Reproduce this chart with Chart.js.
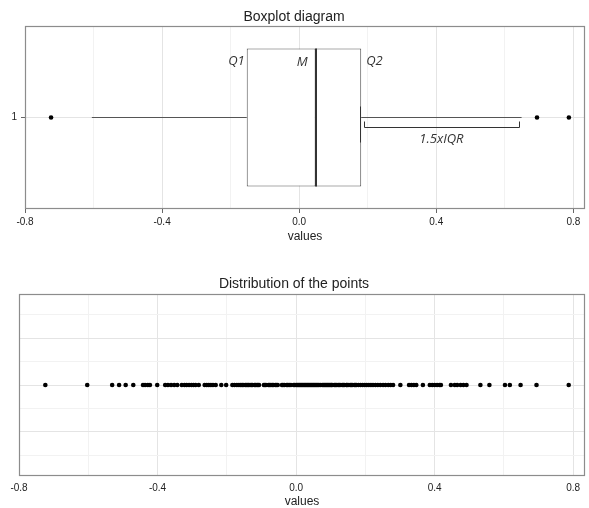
<!DOCTYPE html>
<html>
<head>
<meta charset="utf-8">
<script src="https://cdn.jsdelivr.net/npm/chart.js@4.4.1/dist/chart.umd.min.js"></script>
<style>
  html, body { margin: 0; padding: 0; background: #fff; }
  #haut { position: absolute; left: 0; top: 0; width: 589px; height: 250px; }
  #bas { position: absolute; left: 0; top: 270px; width: 589px; height: 238px; }
</style>
</head>
<body>
<div id="haut"><canvas id="boxChart"></canvas></div>
<div id="bas"><canvas id="distChart"></canvas></div>
<script>
// valeurs
const quartiles = [-0.153, 0.048, 0.181];   // Q1, M, Q2
const whiskers = [-0.605, 0.649];
const outliers = [-0.724, 0.694, 0.787];
const points = [
  -0.724, -0.603, -0.531, -0.511, -0.492, -0.470,
  -0.442, -0.436, -0.428, -0.422, -0.401,
  -0.378, -0.370, -0.361, -0.352, -0.343,
  -0.330, -0.322, -0.316, -0.309, -0.302, -0.296, -0.290, -0.281,
  -0.264, -0.258, -0.252, -0.246, -0.240, -0.232, -0.216, -0.202,
  -0.184, -0.178, -0.171, -0.165, -0.160, -0.156, -0.153, -0.147, -0.144, -0.140, -0.137,
  -0.133, -0.129, -0.126, -0.120, -0.117, -0.113, -0.110, -0.107,
  -0.093, -0.090, -0.087, -0.080, -0.077, -0.073, -0.069, -0.066, -0.060, -0.057, -0.053,
  -0.041, -0.038, -0.034, -0.027, -0.024, -0.020, -0.015,
  -0.007, -0.004, 0.000, 0.003, 0.006, 0.009, 0.012, 0.015, 0.018, 0.021, 0.024, 0.027,
  0.030, 0.033, 0.036, 0.039, 0.042, 0.045, 0.048, 0.051, 0.054, 0.057, 0.060, 0.063, 0.066,
  0.070, 0.075, 0.078, 0.081, 0.084, 0.087, 0.090, 0.093, 0.096, 0.099, 0.102, 0.104,
  0.110, 0.113, 0.116, 0.121, 0.124, 0.127, 0.133, 0.136, 0.139, 0.145, 0.147, 0.150,
  0.156, 0.159, 0.162, 0.168, 0.171, 0.174, 0.180,
  0.186, 0.192, 0.198, 0.204, 0.210, 0.216, 0.222, 0.229, 0.236, 0.243,
  0.251, 0.258, 0.266, 0.273, 0.280, 0.301,
  0.326, 0.333, 0.340, 0.347, 0.366,
  0.386, 0.393, 0.400, 0.407, 0.414, 0.418,
  0.447, 0.458, 0.465, 0.475, 0.483, 0.492,
  0.532, 0.558, 0.603, 0.617, 0.648, 0.694, 0.787
];
const xTicks = [-0.8, -0.6, -0.4, -0.2, 0, 0.2, 0.4, 0.6, 0.8];
const xLabels = [-0.8, -0.4, 0, 0.4, 0.8];
const boxRow = 1;
const distRows = [-1.5, -1, -0.5, 0, 0.5, 1, 1.5];

const POLICE = 'Liberation Sans, Arial, sans-serif';
const GRILLE = '#e4e4e4';
const GRILLE_MIN = '#f2f2f2';
const CADRE = '#8c8c8c';
const TEXTE = '#222';
const TRAIT = '#555';

const estMajeur = c => !!c.tick && xLabels.includes(c.tick.value);

// cadre gris autour de la zone de tracé
const cadre = {
    id: 'cadre',
    beforeDatasetsDraw(chart) {
        const { ctx, chartArea: a } = chart;
        ctx.save();
        ctx.strokeStyle = CADRE;
        ctx.lineWidth = 1.2;
        ctx.strokeRect(Math.round(a.left) + 0.5, Math.round(a.top) + 0.5,
            Math.round(a.width) - 1, Math.round(a.height) - 1);
        ctx.restore();
    }
};

// médiane, Q1, M, Q2 et l'accolade 1.5xIQR
const reperes = {
    id: 'reperes',
    afterDatasetsDraw(chart) {
        const { ctx, scales: { x, y } } = chart;
        const bar = chart.getDatasetMeta(0).data[0];
        const haut = bar.y - bar.height / 2;
        const bas = bar.y + bar.height / 2;
        const cy = y.getPixelForValue(boxRow);
        const [q1, med, q3] = quartiles.map(v => x.getPixelForValue(v));
        const wHi = x.getPixelForValue(whiskers[1]);
        ctx.save();
        ctx.strokeStyle = '#333';
        ctx.lineWidth = 2;
        ctx.beginPath();
        ctx.moveTo(Math.round(med), haut);
        ctx.lineTo(Math.round(med), bas);
        ctx.stroke();
        ctx.lineWidth = 1;
        ctx.beginPath();
        ctx.moveTo(Math.round(q3) - 0.5, cy - 11);
        ctx.lineTo(Math.round(q3) - 0.5, cy + 25);
        ctx.stroke();
        ctx.font = 'italic 13px "Open Sans", sans-serif';
        ctx.fillStyle = '#333';
        ctx.textBaseline = 'middle';
        ctx.textAlign = 'right';
        ctx.fillText('Q1', q1 - 2, haut + 13);
        ctx.fillText('M', med - 8, haut + 14);
        ctx.textAlign = 'left';
        ctx.fillText('Q2', q3 + 5, haut + 13);
        const by = Math.round(cy + 9) + 0.5;
        ctx.beginPath();
        ctx.moveTo(Math.round(q3 + 3) + 0.5, by - 6);
        ctx.lineTo(Math.round(q3 + 3) + 0.5, by);
        ctx.lineTo(Math.round(wHi - 3) + 0.5, by);
        ctx.lineTo(Math.round(wHi - 3) + 0.5, by - 6);
        ctx.stroke();
        ctx.textAlign = 'center';
        ctx.fillText('1.5xIQR', (q3 + wHi) / 2, cy + 22);
        ctx.restore();
    }
};

function axeX(hauteur, traits, titrePad, titreLh, tickPad) {
    return {
        type: 'linear',
        offset: false,
        min: -0.8,
        max: 0.834,
        afterBuildTicks: ax => { ax.ticks = xTicks.map(v => ({ value: v })); },
        afterFit: ax => { ax.height = hauteur; },
        border: { display: false },
        grid: {
            offset: false,
            color: c => estMajeur(c) ? GRILLE : GRILLE_MIN,
            tickColor: c => estMajeur(c) ? '#666' : 'rgba(0,0,0,0)',
            drawTicks: traits,
            tickLength: 4
        },
        ticks: {
            autoSkip: false,
            maxRotation: 0,
            padding: tickPad,
            color: TEXTE,
            font: { family: POLICE, size: 10 },
            callback: v => xLabels.includes(v) ? v.toFixed(1) : ''
        },
        title: {
            display: true,
            text: 'values',
            color: TEXTE,
            font: { family: POLICE, size: 12, lineHeight: titreLh },
            padding: { top: 0, bottom: titrePad }
        }
    };
}

const demiBoite = (a, b) => ({
    type: 'bar',
    indexAxis: 'y',
    data: [{ x: [a, b], y: boxRow }],
    backgroundColor: '#fff',
    borderColor: TRAIT,
    borderWidth: 1,
    borderSkipped: false,
    grouped: false,
    categoryPercentage: 1,
    barPercentage: 0.755,
    order: 1
});

const moustache = (a, b) => ({
    type: 'line',
    data: [{ x: a, y: boxRow }, { x: b, y: boxRow }],
    borderColor: TRAIT,
    borderWidth: 1,
    pointRadius: 0,
    order: 2
});

new Chart(document.getElementById('boxChart'), {
    type: 'scatter',
    data: {
        datasets: [
            demiBoite(quartiles[0], quartiles[1]),
            demiBoite(quartiles[1], quartiles[2]),
            moustache(whiskers[0], quartiles[0]),
            moustache(quartiles[2], whiskers[1]),
            {
                type: 'scatter',
                data: outliers.map(v => ({ x: v, y: boxRow })),
                backgroundColor: '#000',
                borderWidth: 0,
                pointRadius: 2.3,
                order: 0
            }
        ]
    },
    options: {
        responsive: true,
        maintainAspectRatio: false,
        animation: false,
        layout: { padding: { right: 1 } },
        plugins: {
            legend: { display: false },
            tooltip: { enabled: false },
            title: {
                display: true,
                text: 'Boxplot diagram',
                color: TEXTE,
                font: { family: POLICE, size: 14, weight: 'normal', lineHeight: 1.2 },
                padding: { top: 8.6, bottom: 0.6 }
            }
        },
        scales: {
            x: axeX(41, true, 6, 1.2, 3),
            y: {
                type: 'linear',
                offset: false,
                min: 0.4,
                max: 1.6,
                afterBuildTicks: ax => { ax.ticks = [{ value: boxRow }]; },
                afterFit: ax => { ax.width = 25; },
                border: { display: false },
                grid: { offset: false, color: GRILLE, tickColor: '#666', tickLength: 4 },
                ticks: {
                    padding: 4,
                    color: TEXTE,
                    font: { family: POLICE, size: 10 },
                    callback: v => String(v)
                }
            }
        }
    },
    plugins: [cadre, reperes]
});

new Chart(document.getElementById('distChart'), {
    type: 'scatter',
    data: {
        datasets: [{
            data: points.map(v => ({ x: v, y: 0 })),
            backgroundColor: '#000',
            borderWidth: 0,
            pointRadius: 2.3
        }]
    },
    options: {
        responsive: true,
        maintainAspectRatio: false,
        animation: false,
        layout: { padding: { right: 1 } },
        plugins: {
            legend: { display: false },
            tooltip: { enabled: false },
            title: {
                display: true,
                text: 'Distribution of the points',
                color: TEXTE,
                font: { family: POLICE, size: 14, weight: 'normal', lineHeight: 1.2 },
                padding: { top: 5.6, bottom: 1.6 }
            }
        },
        scales: {
            x: axeX(32, false, 0, 1, 6),
            y: {
                type: 'linear',
                min: -1.94,
                max: 1.94,
                afterBuildTicks: ax => { ax.ticks = distRows.map(v => ({ value: v })); },
                afterFit: ax => { ax.width = 19; },
                border: { display: false },
                grid: {
                    color: c => c.tick && Number.isInteger(c.tick.value) ? GRILLE : GRILLE_MIN,
                    drawTicks: false
                },
                ticks: { display: false }
            }
        }
    },
    plugins: [cadre]
});
</script>
</body>
</html>
